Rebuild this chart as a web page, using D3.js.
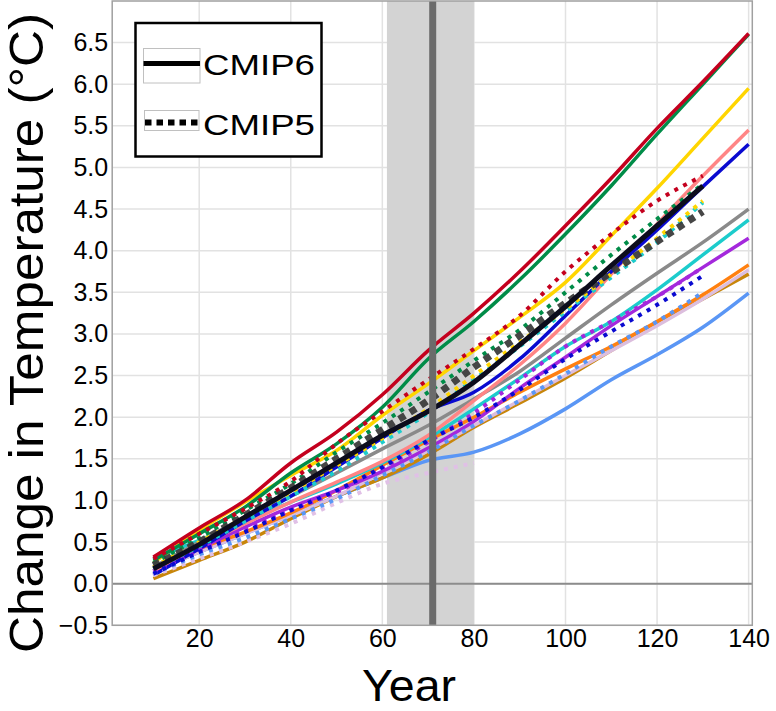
<!DOCTYPE html>
<html>
<head>
<meta charset="utf-8">
<script src="https://cdn.jsdelivr.net/npm/d3@7"></script>
<style>
  html, body { margin: 0; padding: 0; background: #fff; }
  svg { display: block; }
  text { font-family: "Liberation Sans", Arial, sans-serif; fill: #000; }
</style>
</head>
<body>
<svg id="chart" width="776" height="711"></svg>
<script>
// ---------- DATA ----------
const years6 = [10,20,30,40,50,60,70,80,90,100,110,120,130,140];
const years5 = [10,20,30,40,50,60,70,80,90,100,110,120,130];
const yearsShort = [10,20,30,40,50,60,70,80];

// CMIP6 models (solid)
const red6       = [0.32,0.67,1.00,1.45,1.82,2.27,2.80,3.25,3.75,4.30,4.87,5.47,6.03,6.61];
const green6     = [0.28,0.60,0.92,1.33,1.68,2.12,2.70,3.15,3.65,4.20,4.78,5.40,6.00,6.60];
const yellow6    = [0.25,0.64,0.98,1.30,1.60,2.02,2.40,2.80,3.20,3.62,4.18,4.75,5.35,5.95];
const salmon6    = [0.15,0.45,0.72,0.98,1.22,1.47,1.78,2.20,2.63,3.13,3.72,4.32,4.90,5.45];
const blue6      = [0.10,0.42,0.75,1.05,1.40,1.75,2.08,2.30,2.70,3.22,3.75,4.25,4.77,5.28];
const gray6      = [0.20,0.50,0.80,1.05,1.33,1.62,1.90,2.22,2.55,2.95,3.35,3.73,4.10,4.50];
const cyan6      = [0.30,0.52,0.75,0.98,1.20,1.45,1.75,2.10,2.47,2.85,3.15,3.53,3.95,4.37];
const purple6    = [0.15,0.42,0.68,0.92,1.12,1.35,1.63,1.95,2.35,2.72,3.10,3.45,3.80,4.15];
const orange6    = [0.18,0.42,0.62,0.85,1.12,1.42,1.72,2.00,2.30,2.58,2.85,3.15,3.47,3.83];
const thistle6   = [0.15,0.38,0.60,0.82,1.05,1.33,1.60,1.90,2.20,2.50,2.80,3.10,3.42,3.77];
const golden6    = [0.06,0.28,0.50,0.78,1.05,1.27,1.55,1.88,2.17,2.47,2.80,3.13,3.42,3.72];
const lightblue6 = [0.15,0.38,0.60,0.82,1.05,1.27,1.48,1.58,1.80,2.10,2.45,2.75,3.08,3.49];
// CMIP6 mean (solid, thick) to year 130
const mean6      = [0.18,0.47,0.80,1.12,1.45,1.78,2.07,2.42,2.87,3.33,3.82,4.30,4.78];

// CMIP5 models (dotted)
const red5       = [0.30,0.60,0.90,1.23,1.68,2.07,2.45,2.82,3.22,3.75,4.20,4.60,4.90];
const green5     = [0.25,0.55,0.88,1.20,1.58,1.93,2.30,2.68,3.05,3.50,3.95,4.38,4.80];
const yellow5    = [0.20,0.50,0.80,1.10,1.42,1.75,2.10,2.50,2.90,3.30,3.72,4.15,4.60];
const cyan5      = [0.18,0.45,0.75,1.05,1.35,1.70,2.05,2.45,2.85,3.27,3.68,4.10,4.58];
const blue5      = [0.12,0.38,0.62,0.88,1.12,1.40,1.72,2.00,2.33,2.70,3.03,3.35,3.70];
const purple5    = [0.15,0.40,0.65,0.88,1.10,1.38,1.70,2.05,2.45,2.85,3.15,3.45,3.80];
const lightblue5 = [0.12,0.35,0.55,0.78,1.02,1.30,1.58,1.90,2.20,2.52,2.85,3.15,3.50];
const thistle5   = [0.10,0.30,0.50,0.72,0.97,1.20,1.33,1.45];
// CMIP5 mean (thick dashed)
const mean5      = [0.22,0.50,0.82,1.15,1.50,1.85,2.20,2.60,2.98,3.37,3.74,4.11,4.47];

const band = [61, 80];
const marker = 71;
const yTicks = [-0.5,0,0.5,1,1.5,2,2.5,3,3.5,4,4.5,5,5.5,6,6.5];
const xTicks = [20,40,60,80,100,120,140];
const legendLabels = ["CMIP6","CMIP5"];

// ---------- CHART ----------
const svg = d3.select("#chart");
const x = d3.scaleLinear().domain([1, 140.8]).range([112.2, 752.3]);
const y = d3.scaleLinear().domain([-0.5, 7.0]).range([625.3, 1]);
const [x0, x1] = x.range();
const [yb, yt] = y.range();

// grid
const grid = svg.append("g");
grid.selectAll(".hg").data(yTicks).enter().append("line")
  .attr("x1", x0).attr("x2", x1).attr("y1", d => y(d)).attr("y2", d => y(d))
  .attr("stroke", "#e2e2e2").attr("stroke-width", 1.5);
grid.selectAll(".vg").data(xTicks).enter().append("line")
  .attr("y1", yt).attr("y2", yb).attr("x1", d => x(d)).attr("x2", d => x(d))
  .attr("stroke", "#e2e2e2").attr("stroke-width", 1.5);

// shaded band
svg.append("rect")
  .attr("x", x(band[0])).attr("y", yt)
  .attr("width", x(band[1]) - x(band[0])).attr("height", yb - yt)
  .attr("fill", "#d3d3d3");

// zero line
svg.append("line").attr("x1", x0).attr("x2", x1).attr("y1", y(0)).attr("y2", y(0))
  .attr("stroke", "#8c8c8c").attr("stroke-width", 2);

const line = d3.line().x(d => x(d[0])).y(d => y(d[1])).curve(d3.curveMonotoneX);
const zipv = (xs, vs) => xs.map((v, i) => [v, vs[i]]);

const solids = [
  [lightblue6, "#5a96f5"], [golden6, "#c8860a"], [thistle6, "#dcbede"], [orange6, "#ff8010"],
  [purple6, "#a428dc"], [cyan6, "#1ccccc"], [gray6, "#8a8a8a"], [salmon6, "#ff8585"],
  [blue6, "#0a0ad0"], [yellow6, "#ffd500"], [green6, "#008c48"], [red6, "#c4001e"]
];
const dotted = [
  [thistle5, "#e0c0e6", yearsShort], [lightblue5, "#5a96f5", years5], [purple5, "#a428dc", years5],
  [blue5, "#0a0ad0", years5], [cyan5, "#1ccccc", years5], [yellow5, "#ffd500", years5],
  [green5, "#008c48", years5], [red5, "#c4001e", years5]
];

const gl = svg.append("g").attr("fill", "none");
solids.forEach(([vals, col]) => {
  gl.append("path").attr("d", line(zipv(years6, vals)))
    .attr("stroke", col).attr("stroke-width", 3.5).attr("stroke-linejoin", "round");
});
dotted.forEach(([vals, col, yrs]) => {
  gl.append("path").attr("d", line(zipv(yrs, vals)))
    .attr("stroke", col).attr("stroke-width", 4).attr("stroke-dasharray", "4,6");
});
// means
gl.append("path").attr("d", line(zipv(years5, mean5)))
  .attr("stroke", "#3c3c3c").attr("stroke-width", 7).attr("stroke-dasharray", "7,6").attr("opacity", 0.95);
gl.append("path").attr("d", line(zipv(years5, mean6)))
  .attr("stroke", "#0c0c1c").attr("stroke-width", 5).attr("stroke-linejoin", "round");

// marker line
svg.append("line").attr("x1", x(marker)).attr("x2", x(marker)).attr("y1", yt).attr("y2", yb)
  .attr("stroke", "#6b6b6b").attr("stroke-width", 7);

// border
svg.append("rect").attr("x", x0).attr("y", yt).attr("width", x1 - x0).attr("height", yb - yt)
  .attr("fill", "none").attr("stroke", "#a0a0a0").attr("stroke-width", 1.5);

// axes
const yAxis = svg.append("g").attr("transform", `translate(${x0},0)`)
  .call(d3.axisLeft(y).tickValues(yTicks).tickSize(0).tickPadding(4).tickFormat(d3.format(".1f")));
const xAxis = svg.append("g").attr("transform", `translate(0,${yb})`)
  .call(d3.axisBottom(x).tickValues(xTicks).tickSize(0).tickPadding(4).tickFormat(d3.format("d")));
[yAxis, xAxis].forEach(a => {
  a.select(".domain").remove();
  a.selectAll("text").attr("font-size", 25).attr("fill", "#000")
    .attr("font-family", '"Liberation Sans", Arial, sans-serif');
});

// titles
svg.append("text").attr("transform", "translate(43,333) rotate(-90)")
  .attr("text-anchor", "middle").attr("font-size", 48)
  .attr("textLength", 640).attr("lengthAdjust", "spacingAndGlyphs")
  .text("Change in Temperature (°C)");
svg.append("text").attr("x", 409).attr("y", 701)
  .attr("text-anchor", "middle").attr("font-size", 45)
  .attr("textLength", 94).attr("lengthAdjust", "spacingAndGlyphs")
  .text("Year");

// legend
const lg = svg.append("g");
lg.append("rect").attr("x", 135.5).attr("y", 23).attr("width", 186).attr("height", 133.5)
  .attr("fill", "#fff").attr("stroke", "#000").attr("stroke-width", 2.5);
lg.append("rect").attr("x", 143.5).attr("y", 48.5).attr("width", 56.5).attr("height", 34.5)
  .attr("fill", "none").attr("stroke", "#c0c0c0").attr("stroke-width", 1);
lg.append("rect").attr("x", 144.5).attr("y", 110.5).attr("width", 54.5).attr("height", 20)
  .attr("fill", "none").attr("stroke", "#c0c0c0").attr("stroke-width", 1);
lg.append("line").attr("x1", 143.5).attr("x2", 200).attr("y1", 63.5).attr("y2", 63.5)
  .attr("stroke", "#000").attr("stroke-width", 5);
lg.append("line").attr("x1", 145).attr("x2", 199).attr("y1", 122.5).attr("y2", 122.5)
  .attr("stroke", "#000").attr("stroke-width", 6).attr("stroke-dasharray", "6.5,5");
legendLabels.forEach((t, i) => {
  lg.append("text").attr("x", 203).attr("y", i === 0 ? 75 : 135)
    .attr("font-size", 30).attr("textLength", 112).attr("lengthAdjust", "spacingAndGlyphs")
    .text(t);
});
</script>
</body>
</html>
